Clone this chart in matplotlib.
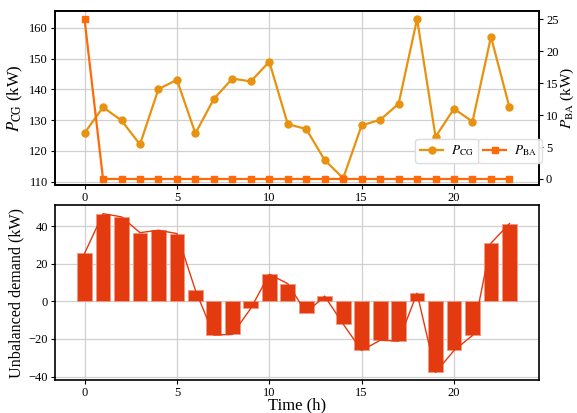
import numpy as np
import matplotlib
matplotlib.use("Agg")
import matplotlib.pyplot as plt

plt.rcParams['font.family'] = ['Liberation Serif', 'DejaVu Serif']
plt.rcParams['mathtext.fontset'] = 'stix'

hours = list(range(24))
p_cg = [125.8, 134.2, 129.9, 122.1, 140.1, 143.1, 125.7, 136.9, 143.5, 142.6,
        149.0, 128.7, 127.1, 117.0, 111.1, 128.3, 130.1, 135.3, 162.9, 124.6,
        133.7, 129.5, 157.1, 134.2]
p_ba = [25, 0, 0, 0, 0, 0, 0, 0, 0, 0, 0, 0, 0, 0, 0, 0, 0, 0, 0, 0, 0, 0, 0, 0]
unbalanced = [25.5, 46.6, 44.9, 36.5, 37.8, 36.0, 5.9, -17.9, -17.6, -3.7,
              14.4, 9.4, -6.0, 2.8, -12.1, -26.1, -20.7, -21.1, 4.3, -37.8,
              -26.1, -18.1, 30.9, 41.3]

c_cg = '#e8920f'
c_ba = '#ff6a08'
c_bar = '#e43a10'

fig = plt.figure(figsize=(5.77, 4.13), dpi=100)
ax1 = fig.add_axes([55/577, 1-185/413, 484/577, 174/413])
ax2 = ax1.twinx()
ax3 = fig.add_axes([55/577, 1-380/413, 484/577, 175/413])

for ax in (ax1, ax3):
    ax.grid(True, color='#d0d0d0', linewidth=0.9)
    ax.set_axisbelow(True)
ax2.grid(False)

l1, = ax1.plot(hours, p_cg, color=c_cg, marker='o', markersize=5, linewidth=1.6,
               label=r'$P_{\mathrm{CG}}$')
l2, = ax2.plot(hours, p_ba, color=c_ba, marker='s', markersize=5, linewidth=1.6,
               label=r'$P_{\mathrm{BA}}$')
ax1.set_ylim(108.9, 165.5)
ax2.set_ylim(-0.94, 26.3)
ax1.set_yticks([110, 120, 130, 140, 150, 160])
ax2.set_yticks([0, 5, 10, 15, 20, 25])
ax1.set_xlim(-1.6, 24.6)
ax1.set_xticks([0, 5, 10, 15, 20])
ax1.set_ylabel(r'$P_{\mathrm{CG}}$ (kW)', fontsize=12, labelpad=3)
ax2.set_ylabel(r'$P_{\mathrm{BA}}$ (kW)', fontsize=11, labelpad=0)

legkw = dict(fontsize=9.5, framealpha=0.9, handlelength=1.8, handletextpad=0.6,
             borderpad=0.35, borderaxespad=0.0, edgecolor='#dddddd')
leg1 = ax1.legend(handles=[l1], loc='upper left', bbox_to_anchor=(0.744, 0.265), **legkw)
ax1.add_artist(leg1)
ax2.legend(handles=[l2], loc='upper left', bbox_to_anchor=(0.874, 0.265), **legkw)

ax3.bar(hours, unbalanced, width=0.8, color=c_bar, edgecolor='#f29a80', linewidth=0.6, zorder=2)
ax3.plot(hours, unbalanced, color=c_bar, linewidth=1.0, zorder=3)
ax3.set_xlim(-1.6, 24.6)
ax3.set_ylim(-41.8, 51.2)
ax3.set_xticks([0, 5, 10, 15, 20])
ax3.set_yticks([-40, -20, 0, 20, 40])
ax3.set_ylabel('Unbalanced demand (kW)', fontsize=11.6, labelpad=3)
ax3.set_xlabel('Time (h)', fontsize=12, labelpad=-1)

for ax in (ax1, ax2, ax3):
    ax.tick_params(labelsize=9, length=3, width=0.8, pad=2)
    for s in ax.spines.values():
        s.set_linewidth(1.2)

fig.savefig('out.png', dpi=100)
